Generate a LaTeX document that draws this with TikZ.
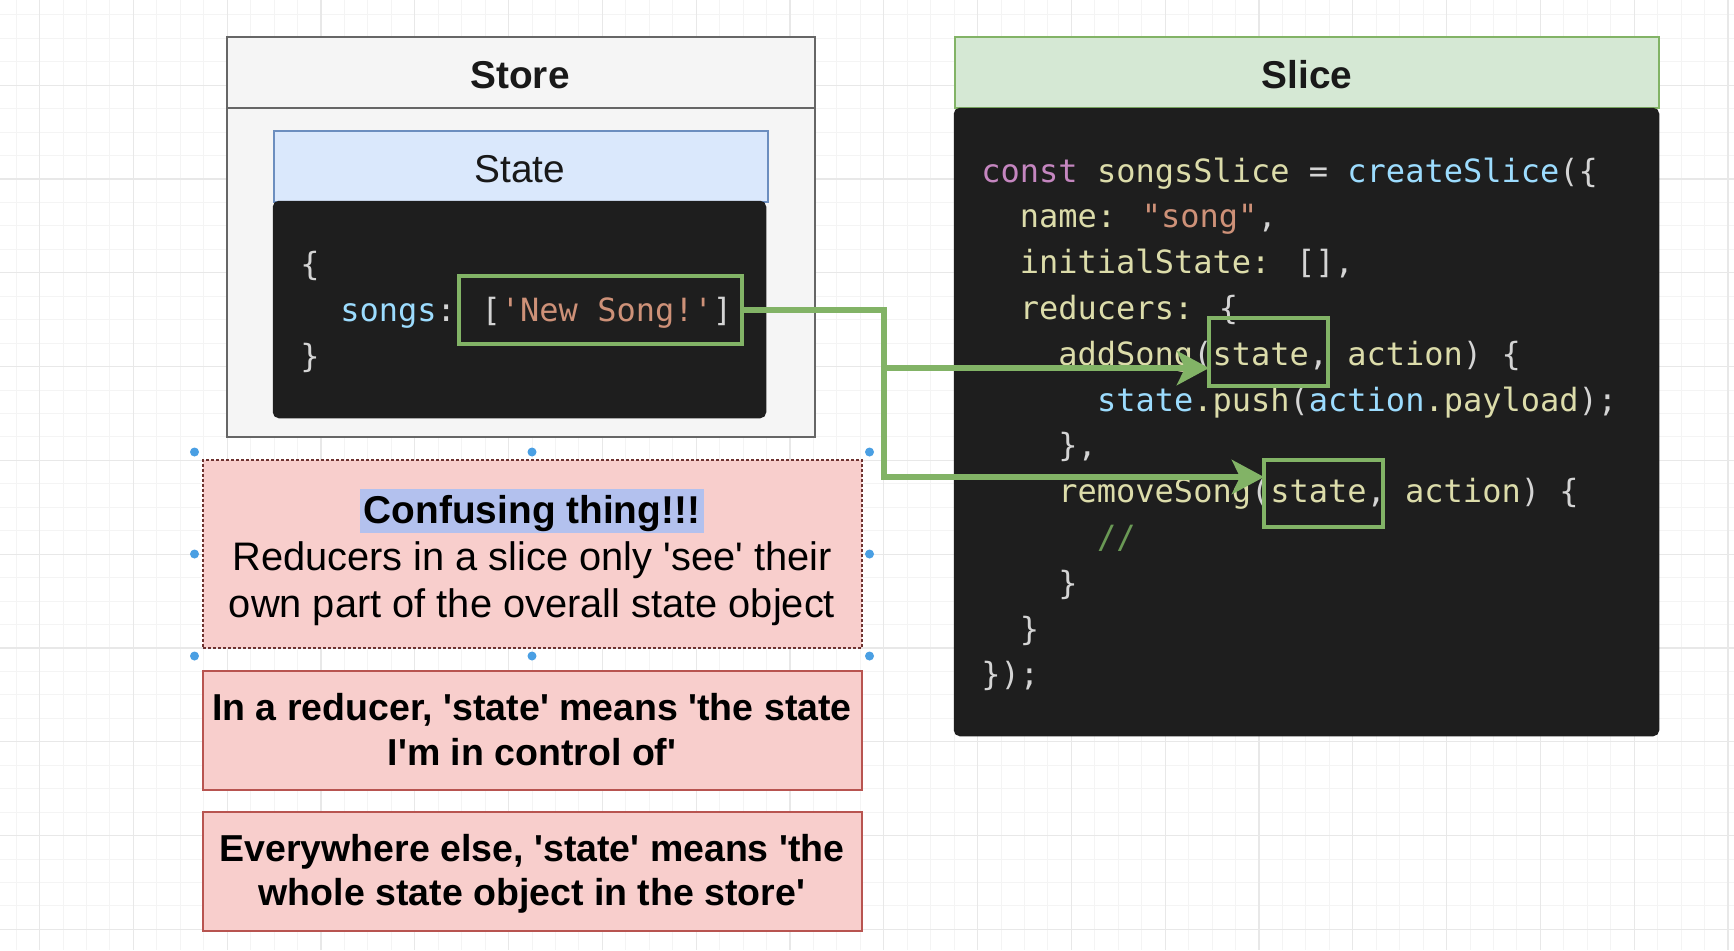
\documentclass[tikz,border=0pt]{standalone}
\usepackage{fontspec}
\setmainfont{Liberation Sans}[Ligatures=TeXOff]
\newfontfamily\codefont{DejaVu Sans Mono}[Ligatures=TeXOff]
\usetikzlibrary{arrows.meta,calc}

\definecolor{storefill}{HTML}{F5F5F5}
\definecolor{storeline}{HTML}{666666}
\definecolor{statefill}{HTML}{DAE8FC}
\definecolor{stateline}{HTML}{6C8EBF}
\definecolor{slicefill}{HTML}{D5E8D4}
\definecolor{greenline}{HTML}{82B366}
\definecolor{codebg}{HTML}{1E1E1E}
\definecolor{pinkfill}{HTML}{F8CECC}
\definecolor{pinkline}{HTML}{B85450}
\definecolor{hlblue}{HTML}{B3C1EE}
\definecolor{cW}{HTML}{D4D4D4}
\definecolor{cY}{HTML}{DCDCAA}
\definecolor{cB}{HTML}{9CDCFE}
\definecolor{cP}{HTML}{C586C0}
\definecolor{cO}{HTML}{CE9178}
\definecolor{cG}{HTML}{6A9955}
\definecolor{handle}{HTML}{4A9FE3}
\definecolor{gridminor}{HTML}{F4F4F4}
\definecolor{gridmajor}{HTML}{E8E8E8}

\tikzset{
  shapebox/.style={inner sep=0pt, outer sep=0pt, line width=1.25pt},
  storebox/.style={shapebox, fill=storefill, draw=storeline},
  statehead/.style={shapebox, fill=statefill, draw=stateline},
  slicehead/.style={shapebox, fill=slicefill, draw=greenline},
  codebox/.style={shapebox, fill=codebg, draw=codebg, rounded corners=2.5pt},
  markbox/.style={shapebox, draw=greenline, line width=2.25pt},
  pinkbox/.style={shapebox, fill=pinkfill, draw=pinkline, line width=1pt},
  selbox/.style={shapebox, fill=pinkfill, draw=pinkline!60!black, line width=0.9pt, dash pattern=on 1.5pt off 1pt},
  headtext/.style={inner sep=0pt, anchor=base, text=black!90, font=\fontsize{19.4}{23}\selectfont},
  bodytext/.style={inner sep=0pt, anchor=base, text=black, font=\fontsize{19.9}{23}\selectfont},
  boldtext/.style={inner sep=0pt, anchor=base, text=black, font=\fontsize{18.75}{23}\selectfont\bfseries},
  codeline/.style={inner sep=0pt, anchor=base west, text=cW, font=\codefont\fontsize{16}{19}\selectfont},
  conn/.style={draw=greenline, line width=3pt, line join=miter,
    -{Stealth[length=16pt, width=17pt, inset=4pt]}},
  handledot/.style={circle, fill=handle, inner sep=0pt, minimum size=4.5pt},
  minorgrid/.style={draw=gridminor, line width=0.5pt},
  majorgrid/.style={draw=gridmajor, line width=0.6pt}
}

\begin{document}
\begin{tikzpicture}[x=0.5pt,y=-0.5pt]
\useasboundingbox (0,0) rectangle (1734,950);
\fill[white] (0,0) rectangle (1734,950);

% background grid
\foreach \i [evaluate=\i as \xx using -7.3+23.45*\i] in {0,...,74}
  \draw[minorgrid] (\xx,0) -- (\xx,950);
\foreach \i [evaluate=\i as \yy using 14.85+23.45*\i] in {0,...,39}
  \draw[minorgrid] (0,\yy) -- (1734,\yy);
\foreach \i [evaluate=\i as \xx using 39.6+93.8*\i] in {0,...,18}
  \draw[majorgrid] (\xx,0) -- (\xx,950);
\foreach \i [evaluate=\i as \yy using 85.2+93.8*\i] in {0,...,9}
  \draw[majorgrid] (0,\yy) -- (1734,\yy);

% Store
\node[storebox, minimum width=294pt, minimum height=200pt] (store) at (521,237) {};
\node[storebox, minimum width=294pt, minimum height=35.5pt] (storehead) at (521,72.5) {};
\node[headtext, font=\fontsize{19.4}{23}\selectfont\bfseries] (storelbl) at (520,88) {Store};

% State
\node[statehead, minimum width=247pt, minimum height=35.5pt] (statehd) at (521,166.5) {};
\node[headtext] (statelbl) at (520,182.5) {State};
\node[codebox, minimum width=245.5pt, minimum height=107.5pt] (statecode) at (519.5,309.5) {};
\node[codeline] (sc1) at (300,275) {\{};
\node[codeline] (sc2) at (340,321) {\textcolor{cB}{songs}: [\textcolor{cO}{'New Song!'}]};
\node[codeline] (sc3) at (300,367) {\}};
\node[markbox, minimum width=141.5pt, minimum height=34pt] (ns) at (600.5,310) {};

% Slice
\node[slicehead, minimum width=352pt, minimum height=35.5pt] (slicehd) at (1307,72.5) {};
\node[headtext, font=\fontsize{19.4}{23}\selectfont\bfseries] (slicelbl) at (1307,88.5) {Slice};
\node[codebox, minimum width=351.5pt, minimum height=313pt] (slicecode) at (1306.5,422) {};

\node[codeline] (l1) at (981,182) {\textcolor{cP}{const} \textcolor{cY}{songsSlice} = \textcolor{cB}{createSlice}(\{};
\node[codeline] (l2) at (1019.5,227.8) {\textcolor{cY}{name:} \textcolor{cO}{"song"},};
\node[codeline] (l3) at (1019.5,273.6) {\textcolor{cY}{initialState:} [],};
\node[codeline] (l4) at (1019.5,319.4) {\textcolor{cY}{reducers:} \{};
\node[codeline] (l5) at (1058,365.2) {\textcolor{cY}{addSong}(\textcolor{cY}{state}, \textcolor{cY}{action}) \{};
\node[codeline] (l6) at (1096.6,411) {\textcolor{cB}{state}\textcolor{cY}{.push}(\textcolor{cB}{action}\textcolor{cY}{.payload});};
\node[codeline] (l7) at (1058,456.8) {\},};
\node[codeline] (l8) at (1058,502.6) {\textcolor{cY}{removeSong}(\textcolor{cY}{state}, \textcolor{cY}{action}) \{};
\node[codeline] (l9) at (1096.6,548.4) {\textcolor{cG}{//}};
\node[codeline] (l10) at (1058,594.2) {\}};
\node[codeline] (l11) at (1019.5,640) {\}};
\node[codeline] (l12) at (981,685.8) {\});};

\node[markbox, minimum width=59.5pt, minimum height=34pt] (s1) at (1268.5,352) {};
\node[markbox, minimum width=59.5pt, minimum height=33.5pt] (s2) at (1323.5,493.5) {};

% connectors
\coordinate (bend) at (884,310);
\coordinate (t1) at ($(s1.west)+(0,16)$);
\coordinate (t2) at ($(s2.west)+(0,-16.5)$);
\draw[conn] (ns.east) -- (bend) |- (t1);
\draw[conn] (ns.east) -- (bend) |- (t2);

% notes
\node[selbox, minimum width=329.5pt, minimum height=94pt] (noteA) at (532.5,554) {};
\node[fill=hlblue, inner xsep=2.2pt, inner ysep=0pt, minimum height=22pt, outer sep=0pt] (hl) at (532,511) {\fontsize{19.4}{23}\selectfont\bfseries\phantom{Confusing thing!!!}};
\node[bodytext, font=\fontsize{19.4}{23}\selectfont\bfseries] (a1) at (532,523) {Confusing thing!!!};
\node[bodytext] (a2) at (532,570.5) {Reducers in a slice only 'see' their};
\node[bodytext] (a3) at (532,617.5) {own part of the overall state object};

\node[pinkbox, minimum width=329.5pt, minimum height=59.5pt] (noteB) at (532.5,730.5) {};
\node[boldtext] (b1) at (532,720) {In a reducer, 'state' means 'the state};
\node[boldtext] (b2) at (532,765) {I'm in control of'};

\node[pinkbox, minimum width=329.5pt, minimum height=59.5pt] (noteC) at (532.5,871.5) {};
\node[boldtext] (c1) at (532,861.5) {Everywhere else, 'state' means 'the};
\node[boldtext] (c2) at (532,905.5) {whole state object in the store'};

% selection handles
\node[handledot] (h1) at (194.5,452) {};
\node[handledot] (h2) at (532,452) {};
\node[handledot] (h3) at (869.5,452) {};
\node[handledot] (h4) at (194.5,554) {};
\node[handledot] (h5) at (869.5,554) {};
\node[handledot] (h6) at (194.5,656) {};
\node[handledot] (h7) at (532,656) {};
\node[handledot] (h8) at (869.5,656) {};
\end{tikzpicture}
\end{document}
